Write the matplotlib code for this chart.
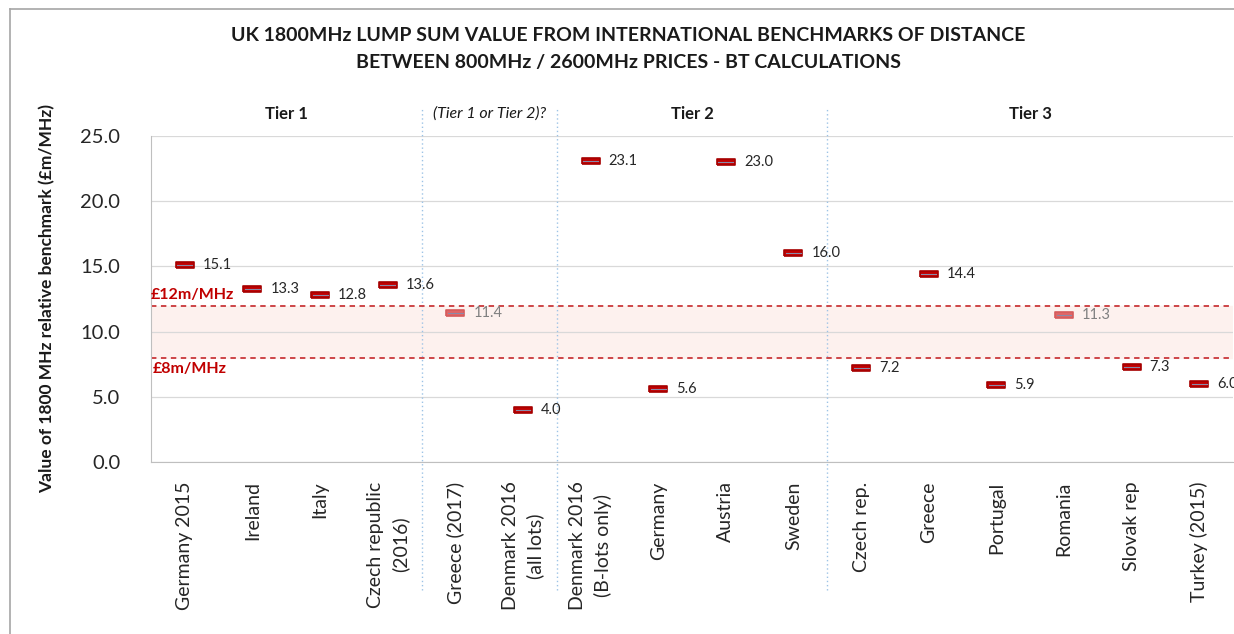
import numpy as np
import matplotlib
matplotlib.use('Agg')
import matplotlib.pyplot as plt
from matplotlib.lines import Line2D

plt.rcParams['font.family'] = ['Lato', 'DejaVu Sans']

# Data
countries = ['Germany 2015', 'Ireland', 'Italy', 'Czech republic\n(2016)',
             'Greece (2017)', 'Denmark 2016\n(all lots)', 'Denmark 2016\n(B-lots only)',
             'Germany', 'Austria', 'Sweden', 'Czech rep.', 'Greece', 'Portugal',
             'Romania', 'Slovak rep', 'Turkey (2015)']
values = [15.1, 13.3, 12.8, 13.6, 11.4, 4.0, 23.1, 5.6, 23.0, 16.0,
          7.2, 14.4, 5.9, 11.3, 7.3, 6.0]
faded = ['Greece (2017)', 'Romania']
tiers = ['Tier 1', '(Tier 1 or Tier 2)?', 'Tier 2', 'Tier 3']
tier_spans = [(0, 4), (4, 6), (6, 10), (10, 16)]
band_low, band_high = 8, 12
title_lines = ['UK 1800MHz LUMP SUM VALUE FROM INTERNATIONAL BENCHMARKS OF DISTANCE',
               'BETWEEN 800MHz / 2600MHz PRICES - BT CALCULATIONS']

dark_red = '#c00000'
line_red = '#c9373a'

fig = plt.figure(figsize=(12.34, 6.34), dpi=100)
ax = fig.add_axes([0.1224, 0.2713, 0.8768, 0.5142])

x = np.arange(len(countries))

# band between £8m and £12m
ax.axhspan(band_low, band_high, color='#fdf1ee', zorder=0)
ax.axhline(band_high, color=line_red, ls=(0, (3, 2.5)), lw=1.3, zorder=2)
ax.axhline(band_low, color=line_red, ls=(0, (3, 2.5)), lw=1.3, zorder=2)

# rectangle markers with a thin line through them
rect = [(-1, -0.3), (1, -0.3), (1, 0.3), (-1, 0.3), (-1, -0.3)]
for xi, name, v in zip(x, countries, values):
    is_faded = name in faded
    face = '#e06666' if is_faded else dark_red
    edge = '#d65c5c' if is_faded else '#a50000'
    ax.scatter(xi, v, marker=rect, s=180, color=face, edgecolor=edge,
               linewidth=1.2, zorder=4)
    ax.plot([xi - 0.11, xi + 0.11], [v, v], color='#8a8aa8', lw=0.8, zorder=5)
    ax.annotate(f'{v:.1f}', (xi, v), xytext=(13, 0), textcoords='offset points',
                va='center', ha='left', fontsize=10.5,
                color='#808080' if is_faded else '#262626', zorder=6,
                annotation_clip=False)

ax.set_xlim(-0.5, len(countries) - 0.5)
ax.set_ylim(0, 25)
ax.set_yticks(np.arange(0, 26, 5))
ax.set_yticklabels([f'{t:.1f}' for t in np.arange(0, 26, 5)], fontsize=14.5,
                   color='#262626')
ax.set_xticks(x)
ax.set_xticklabels(countries, rotation=90, fontsize=14, color='#262626',
                   multialignment='center', linespacing=1.5)
ax.tick_params(axis='both', length=0)
ax.tick_params(axis='y', pad=22)
ax.tick_params(axis='x', pad=14)
ax.grid(axis='y', color='#d9d9d9', lw=0.9, zorder=0)
ax.set_axisbelow(True)
for s in ['top', 'right']:
    ax.spines[s].set_visible(False)
ax.spines['left'].set_color('#bfbfbf')
ax.spines['bottom'].set_color('#bfbfbf')

ax.set_ylabel('Value of 1800 MHz relative benchmark (£m/MHz)', fontsize=12.5,
              fontweight='bold', color='#1a1a1a', labelpad=18)

# band labels
ax.text(-0.5, band_high + 0.25, '£12m/MHz', color=dark_red, fontsize=11.5,
        fontweight='bold', ha='left', va='bottom')
ax.text(-0.48, band_low - 0.3, '£8m/MHz', color=dark_red, fontsize=11.5,
        fontweight='bold', ha='left', va='top')

# tier dividers and headers
for lo, hi in tier_spans[1:]:
    xd = lo - 0.5
    ax.plot([xd, xd], [-9.8, 27.1], color='#9dc3e6', ls=(0, (1, 2)), lw=1.0,
            clip_on=False, zorder=1)
for name, (lo, hi) in zip(tiers, tier_spans):
    italic = name.startswith('(')
    xc = (lo + hi - 1) / 2
    ax.text(xc, 26.7, name, ha='center', va='center',
            fontsize=11.5 if italic else 12,
            fontweight='normal' if italic else 'bold',
            style='italic' if italic else 'normal', color='#1a1a1a')

# two-line title
for line, ty in zip(title_lines, [0.944, 0.902]):
    fig.text(0.509, ty, line, ha='center', va='center', fontsize=14,
             fontweight='bold', color='#1a1a1a')

# outer chart frame
fig.add_artist(Line2D([10 / 1234, 10 / 1234], [0, 1 - 9 / 634],
                      transform=fig.transFigure, color='#a6a6a6', lw=1.2))
fig.add_artist(Line2D([10 / 1234, 1], [1 - 9 / 634, 1 - 9 / 634],
                      transform=fig.transFigure, color='#a6a6a6', lw=1.2))

fig.savefig('out.png', dpi=100)
